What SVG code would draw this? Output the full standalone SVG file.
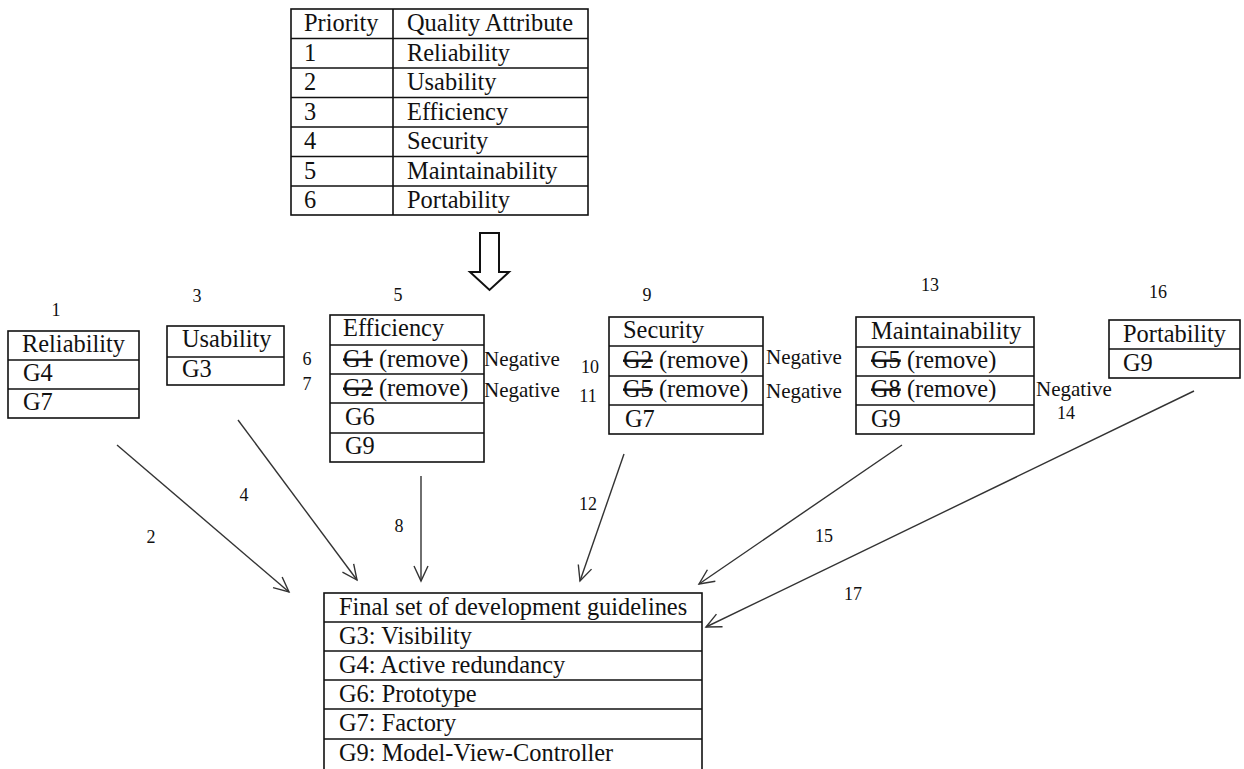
<svg xmlns="http://www.w3.org/2000/svg" width="1244" height="769" viewBox="0 0 1244 769" font-family="'Liberation Serif', 'DejaVu Serif', 'Times New Roman', serif">
<defs>
<style>
text{fill:#111;}
.t{font-size:24.4px;}
.neg{font-size:21px;}
.n{font-size:18px;}
.box{fill:#fff;stroke:#111;stroke-width:1.6;}
.ln{stroke:#111;stroke-width:1.6;}
.conn{stroke:#333;stroke-width:1.4;fill:none;marker-end:url(#ah);}
.s{text-decoration:line-through;}
</style>
<marker id="ah" markerWidth="18" markerHeight="18" refX="16" refY="8" orient="auto" markerUnits="userSpaceOnUse">
<path d="M1,1 L16,8 L1,15" fill="none" stroke="#333" stroke-width="1.4"/>
</marker>
</defs>

<g id="priority-table">
<rect class="box" x="291" y="9" width="297" height="206"/>
<line class="ln" x1="393" y1="9" x2="393" y2="215"/>
<line class="ln" x1="291" y1="38.5" x2="588" y2="38.5"/>
<line class="ln" x1="291" y1="68" x2="588" y2="68"/>
<line class="ln" x1="291" y1="97.5" x2="588" y2="97.5"/>
<line class="ln" x1="291" y1="127" x2="588" y2="127"/>
<line class="ln" x1="291" y1="156.5" x2="588" y2="156.5"/>
<line class="ln" x1="291" y1="186" x2="588" y2="186"/>
<text class="t" x="304" y="31">Priority</text><text class="t" x="407" y="31">Quality Attribute</text>
<text class="t" x="304" y="61">1</text><text class="t" x="407" y="61">Reliability</text>
<text class="t" x="304" y="90">2</text><text class="t" x="407" y="90">Usability</text>
<text class="t" x="304" y="120">3</text><text class="t" x="407" y="120">Efficiency</text>
<text class="t" x="304" y="149">4</text><text class="t" x="407" y="149">Security</text>
<text class="t" x="304" y="179">5</text><text class="t" x="407" y="179">Maintainability</text>
<text class="t" x="304" y="208">6</text><text class="t" x="407" y="208">Portability</text>
</g>

<g id="hollow-arrow">
<polygon points="480,233 499,233 499,272 509,272 489.5,290 470,272 480,272" fill="#fff" stroke="#111" stroke-width="2"/>
</g>

<g id="reliability">
<text class="n" x="56" y="316" text-anchor="middle">1</text>
<rect class="box" x="8" y="331" width="131" height="87"/>
<line class="ln" x1="8" y1="360" x2="139" y2="360"/>
<line class="ln" x1="8" y1="389" x2="139" y2="389"/>
<text class="t" x="22" y="352">Reliability</text>
<text class="t" x="23" y="381">G4</text>
<text class="t" x="23" y="410">G7</text>
</g>

<g id="usability">
<text class="n" x="197" y="302" text-anchor="middle">3</text>
<rect class="box" x="167" y="326" width="117" height="59"/>
<line class="ln" x1="167" y1="357" x2="284" y2="357"/>
<text class="t" x="182" y="347">Usability</text>
<text class="t" x="182" y="377">G3</text>
</g>

<g id="efficiency">
<text class="n" x="398" y="301" text-anchor="middle">5</text>
<text class="n" x="307" y="365" text-anchor="middle">6</text>
<text class="n" x="307" y="390" text-anchor="middle">7</text>
<rect class="box" x="330" y="315" width="154" height="147"/>
<line class="ln" x1="330" y1="345" x2="484" y2="345"/>
<line class="ln" x1="330" y1="374" x2="484" y2="374"/>
<line class="ln" x1="330" y1="403" x2="484" y2="403"/>
<line class="ln" x1="330" y1="433" x2="484" y2="433"/>
<text class="t" x="343" y="336">Efficiency</text>
<text class="t" x="343" y="367"><tspan class="s">G1</tspan> (remove)</text>
<text class="t" x="343" y="396"><tspan class="s">G2</tspan> (remove)</text>
<text class="t" x="345" y="425">G6</text>
<text class="t" x="345" y="454">G9</text>
<text class="neg" x="484" y="366">Negative</text>
<text class="neg" x="484" y="397">Negative</text>
</g>

<g id="security">
<text class="n" x="647" y="301" text-anchor="middle">9</text>
<text class="n" x="590" y="373" text-anchor="middle">10</text>
<text class="n" x="588" y="402" text-anchor="middle">11</text>
<rect class="box" x="609" y="317" width="154" height="117"/>
<line class="ln" x1="609" y1="346" x2="763" y2="346"/>
<line class="ln" x1="609" y1="376" x2="763" y2="376"/>
<line class="ln" x1="609" y1="405" x2="763" y2="405"/>
<text class="t" x="623" y="338">Security</text>
<text class="t" x="623" y="368"><tspan class="s">G2</tspan> (remove)</text>
<text class="t" x="623" y="397"><tspan class="s">G5</tspan> (remove)</text>
<text class="t" x="625" y="427">G7</text>
<text class="neg" x="766" y="364">Negative</text>
<text class="neg" x="766" y="398">Negative</text>
</g>

<g id="maintainability">
<text class="n" x="930" y="291" text-anchor="middle">13</text>
<text class="n" x="1066" y="419" text-anchor="middle">14</text>
<rect class="box" x="856" y="317" width="178" height="117"/>
<line class="ln" x1="856" y1="347" x2="1034" y2="347"/>
<line class="ln" x1="856" y1="376" x2="1034" y2="376"/>
<line class="ln" x1="856" y1="405" x2="1034" y2="405"/>
<text class="t" x="871" y="339">Maintainability</text>
<text class="t" x="871" y="368"><tspan class="s">G5</tspan> (remove)</text>
<text class="t" x="871" y="397"><tspan class="s">G8</tspan> (remove)</text>
<text class="t" x="871" y="427">G9</text>
<text class="neg" x="1036" y="396">Negative</text>
</g>

<g id="portability">
<text class="n" x="1158" y="298" text-anchor="middle">16</text>
<rect class="box" x="1109" y="320" width="131" height="58"/>
<line class="ln" x1="1109" y1="349" x2="1240" y2="349"/>
<text class="t" x="1123" y="342">Portability</text>
<text class="t" x="1123" y="371">G9</text>
</g>

<g id="final-set">
<rect class="box" x="324" y="593" width="378" height="180"/>
<line class="ln" x1="324" y1="622" x2="702" y2="622"/>
<line class="ln" x1="324" y1="651" x2="702" y2="651"/>
<line class="ln" x1="324" y1="680" x2="702" y2="680"/>
<line class="ln" x1="324" y1="709" x2="702" y2="709"/>
<line class="ln" x1="324" y1="739" x2="702" y2="739"/>
<text class="t" x="339" y="615">Final set of development guidelines</text>
<text class="t" x="339" y="644">G3: Visibility</text>
<text class="t" x="339" y="673">G4: Active redundancy</text>
<text class="t" x="339" y="702">G6: Prototype</text>
<text class="t" x="339" y="731">G7: Factory</text>
<text class="t" x="339" y="761">G9: Model-View-Controller</text>
</g>

<g id="connectors">
<line class="conn" x1="117" y1="445" x2="289" y2="592"/>
<line class="conn" x1="238" y1="420" x2="357" y2="580"/>
<line class="conn" x1="421" y1="476" x2="421" y2="581"/>
<line class="conn" x1="624" y1="454" x2="580" y2="581"/>
<line class="conn" x1="902" y1="445" x2="699" y2="584"/>
<line class="conn" x1="1194" y1="391" x2="706" y2="627"/>
<text class="n" x="151" y="543" text-anchor="middle">2</text>
<text class="n" x="244" y="501" text-anchor="middle">4</text>
<text class="n" x="399" y="532" text-anchor="middle">8</text>
<text class="n" x="588" y="510" text-anchor="middle">12</text>
<text class="n" x="824" y="542" text-anchor="middle">15</text>
<text class="n" x="853" y="600" text-anchor="middle">17</text>
</g>
</svg>
